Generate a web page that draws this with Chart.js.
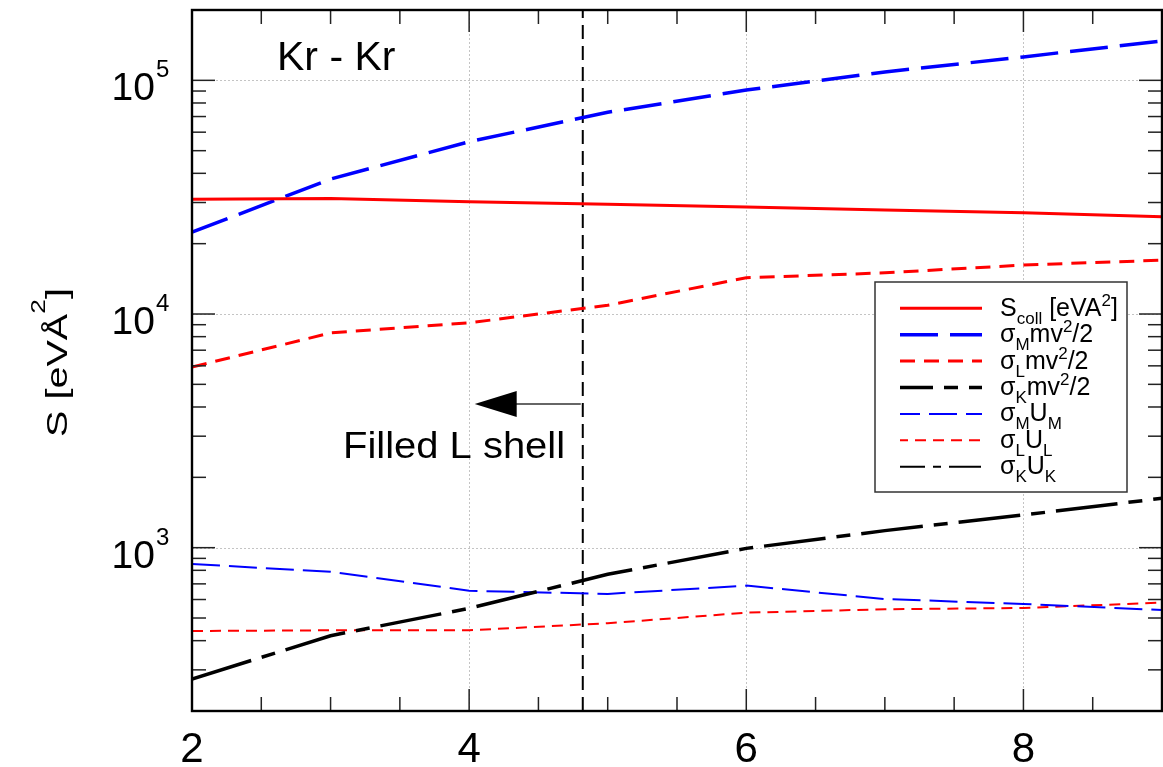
<!DOCTYPE html>
<html><head><meta charset="utf-8">
<script src="https://cdn.jsdelivr.net/npm/chart.js@4/dist/chart.umd.min.js"></script>
<style>html,body{margin:0;padding:0;background:#fff}#wrap{width:1163px;height:767px;position:relative}</style>
</head><body><div id="wrap"><canvas id="c"></canvas></div>
<script>
// ---- data ----
const xValues   = [2, 3, 4, 5, 6, 7, 8, 9];
const sColl     = [31000, 31200, 30200, 29500, 28700, 27900, 27100, 26100];
const sigmaMmv  = [22400, 37800, 54600, 73000, 90900, 108600, 126000, 147500];
const sigmaLmv  = [5930, 8300, 9170, 10900, 14300, 15000, 16200, 17000];
const sigmaKmv  = [274, 420, 550, 769, 993, 1183, 1380, 1627];
const sigmaMU   = [851, 789, 654, 634, 688, 603, 574, 541];
const sigmaLU   = [440, 443, 443, 475, 527, 545, 552, 582];
const sigmaKU   = [];
const filledLx  = 4.82;          // dashed marker position
const arrowTipX = 4.04;          // arrow tip
const arrowY    = 4120;          // arrow level
const xTickValues = [2, 4, 6, 8];
const xTickLabels = ['2', '4', '6', '8'];
const yMajorValues = [1e3, 1e4, 1e5];
const yTickBase = '10';
const yTickExponents = ['3', '4', '5'];
const titleText = 'Kr - Kr';
const noteText = 'Filled L shell';
const legendLabels = [
  [{t:'S'},{t:'coll',sub:1},{t:' [eVA'},{t:'2',sup:1},{t:']'}],
  [{t:'σ'},{t:'M',sub:1},{t:'mv'},{t:'2',sup:1},{t:'/2'}],
  [{t:'σ'},{t:'L',sub:1},{t:'mv'},{t:'2',sup:1},{t:'/2'}],
  [{t:'σ'},{t:'K',sub:1},{t:'mv'},{t:'2',sup:1},{t:'/2'}],
  [{t:'σ'},{t:'M',sub:1},{t:'U'},{t:'M',sub:1}],
  [{t:'σ'},{t:'L',sub:1},{t:'U'},{t:'L',sub:1}],
  [{t:'σ'},{t:'K',sub:1},{t:'U'},{t:'K',sub:1}]
];

const FONT = "'Liberation Sans', Arial, sans-serif";
const pts = arr => arr.map((v, i) => ({x: xValues[i], y: v}));

const styles = [
  {c:'#ff0000', w:3,   d:[],             lo:0},
  {c:'#0000ff', w:3.5, d:[38,12],        lo:0},
  {c:'#ff0000', w:3,   d:[15,9],         lo:0},
  {c:'#000000', w:3.5, d:[62,11,14,11],  lo:29},
  {c:'#0000ff', w:2,   d:[28,9],         lo:8},
  {c:'#ff0000', w:2,   d:[11,7],         lo:3},
  {c:'#000000', w:2,   d:[32,8,8,8],     lo:7}
];
const seriesData = [sColl, sigmaMmv, sigmaLmv, sigmaKmv, sigmaMU, sigmaLU, sigmaKU];

const datasets = seriesData.map((arr, i) => ({
  label: legendLabels[i].map(s => s.t).join(''),
  data: pts(arr),
  borderColor: styles[i].c,
  borderWidth: styles[i].w,
  borderDash: styles[i].d,
  pointRadius: 0,
  tension: 0,
  fill: false
}));
datasets.push({
  label: 'marker',
  data: [{x: filledLx, y: 200}, {x: filledLx, y: 200000}],
  borderColor: '#000', borderWidth: 2, borderDash: [14, 7], pointRadius: 0, fill: false
});

function drawSegs(ctx, segs, x, y, main, small, subOff, supOff) {
  let cx = x;
  segs.forEach(s => {
    ctx.font = (s.sub || s.sup ? small : main) + 'px ' + FONT;
    const dy = s.sub ? subOff : (s.sup ? supOff : 0);
    ctx.fillText(s.t, cx, y + dy);
    cx += ctx.measureText(s.t).width;
  });
  return cx - x;
}

const custom = {
  id: 'custom',
  beforeDatasetsDraw(chart) {
    const {ctx, chartArea: a, scales: {x, y}} = chart;
    ctx.save();
    ctx.strokeStyle = '#c4c4c4'; ctx.lineWidth = 1; ctx.setLineDash([2, 2]);
    xTickValues.forEach(v => {
      if (v === 2) return;
      const px = Math.round(x.getPixelForValue(v)) + 0.5;
      ctx.beginPath(); ctx.moveTo(px, a.top); ctx.lineTo(px, a.bottom); ctx.stroke();
    });
    yMajorValues.forEach(v => {
      const py = Math.round(y.getPixelForValue(v)) + 0.5;
      ctx.beginPath(); ctx.moveTo(a.left, py); ctx.lineTo(a.right, py); ctx.stroke();
    });
    ctx.restore();
  },
  afterDraw(chart) {
    const {ctx, chartArea: a, scales: {x, y}} = chart;
    ctx.save();
    // ticks
    ctx.setLineDash([]);
    ctx.strokeStyle = '#222'; ctx.lineWidth = 1.5;
    const line = (x1, y1, x2, y2) => { ctx.beginPath(); ctx.moveTo(x1, y1); ctx.lineTo(x2, y2); ctx.stroke(); };
    for (let v = 2.5; v < 9; v += 0.5) {
      const px = x.getPixelForValue(v);
      const major = xTickValues.includes(v);
      const L = major ? 22 : 14;
      line(px, a.bottom, px, a.bottom - L);
      line(px, a.top, px, a.top + L);
    }
    [100, 1000, 10000, 100000].forEach(d => {
      for (let m = 1; m <= 9; m++) {
        const v = m * d;
        if (v <= 200 || v >= 200000) continue;
        const py = y.getPixelForValue(v);
        const L = m === 1 ? 23 : 14;
        line(a.left, py, a.left + L, py);
        line(a.right, py, a.right - L, py);
      }
    });
    // border
    ctx.strokeStyle = '#000'; ctx.lineWidth = 2.4;
    ctx.strokeRect(a.left, a.top, a.right - a.left, a.bottom - a.top);

    ctx.fillStyle = '#000';
    ctx.textBaseline = 'alphabetic';
    // x tick labels
    ctx.font = '42px ' + FONT; ctx.textAlign = 'center';
    xTickValues.forEach((v, i) => ctx.fillText(xTickLabels[i], x.getPixelForValue(v), 762));
    // y tick labels
    yMajorValues.forEach((v, i) => {
      const py = y.getPixelForValue(v);
      ctx.font = '39px ' + FONT; ctx.textAlign = 'right';
      ctx.fillText(yTickBase, 155, py + 20);
      ctx.font = '24px ' + FONT; ctx.textAlign = 'left';
      ctx.fillText(yTickExponents[i], 156, py - 3);
    });
    // y axis title
    ctx.save();
    ctx.translate(67, 437); ctx.rotate(-Math.PI / 2); ctx.scale(1.32, 1);
    ctx.textAlign = 'left';
    drawSegs(ctx, [{t:'S [eVÅ'},{t:'2',sup:1},{t:']'}], 0, 0, 30, 20, 0, -22);
    ctx.restore();
    // title
    ctx.textAlign = 'left';
    ctx.font = '41px ' + FONT;
    ctx.fillText(titleText, 277, 70);
    // note
    ctx.save();
    ctx.translate(343, 458); ctx.scale(1.08, 1);
    ctx.font = '37px ' + FONT; ctx.fillText(noteText, 0, 0);
    ctx.restore();
    // arrow
    const ax0 = x.getPixelForValue(filledLx), ax1 = x.getPixelForValue(arrowTipX), ay = y.getPixelForValue(arrowY);
    ctx.strokeStyle = '#333'; ctx.lineWidth = 1.5;
    line(ax0 - 2, ay, ax1 + 40, ay);
    ctx.fillStyle = '#000';
    ctx.beginPath(); ctx.moveTo(ax1, ay); ctx.lineTo(ax1 + 42, ay - 13); ctx.lineTo(ax1 + 42, ay + 13); ctx.closePath(); ctx.fill();
    // legend
    const bx = 875, by = 282, bw = 252, bh = 210;
    ctx.fillStyle = '#fff'; ctx.fillRect(bx, by, bw, bh);
    ctx.strokeStyle = '#333'; ctx.lineWidth = 1.5; ctx.strokeRect(bx, by, bw, bh);
    ctx.fillStyle = '#000'; ctx.textAlign = 'left';
    legendLabels.forEach((segs, i) => {
      const ly = 308.3 + i * 26.4;
      const st = styles[i];
      ctx.save();
      ctx.strokeStyle = st.c; ctx.lineWidth = st.w; ctx.setLineDash(st.d); ctx.lineDashOffset = st.lo;
      line(900, ly, 982, ly);
      ctx.restore();
      drawSegs(ctx, segs, 1000, ly + 7.5, 25, 17, 8, -10);
    });
    ctx.restore();
  }
};

new Chart(document.getElementById('c'), {
  type: 'line',
  data: {datasets},
  options: {
    responsive: true, maintainAspectRatio: false, animation: false,
    layout: {padding: {left: 192, right: 1, top: 10, bottom: 56}},
    plugins: {legend: {display: false}, tooltip: {enabled: false}},
    scales: {
      x: {type: 'linear', min: 2, max: 9, display: false},
      y: {type: 'logarithmic', min: 200, max: 200000, display: false}
    }
  },
  plugins: [custom]
});
</script></body></html>
